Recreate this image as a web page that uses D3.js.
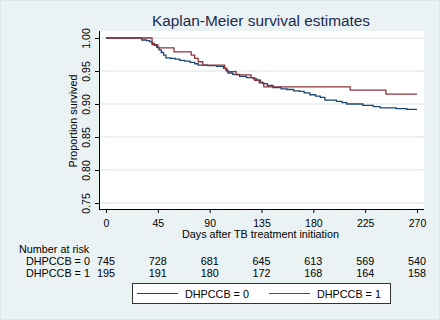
<!DOCTYPE html>
<html lang="en">
<head>
<meta charset="utf-8">
<title>Kaplan-Meier survival estimates</title>
<style>
  body { margin: 0; background: #eaf2f3; }
  svg { display: block; font-family: "Liberation Sans", Arial, sans-serif; }
</style>
<script src="https://d3js.org/d3.v7.min.js"></script>
</head>
<body>
<script>
// survival steps, DHPCCB = 0
const days0 = [0, 31, 35, 38, 40, 42, 44, 46, 48, 50, 52, 56, 60, 64, 68, 73, 77, 80, 88, 96,
  102, 104, 106, 110, 116, 122, 128, 131, 134, 136, 140, 145, 152, 157, 163, 168, 172, 177,
  182, 186, 190, 200, 205, 209, 223, 232, 238, 252, 261, 270];
const surv0 = [1.000, 0.997, 0.996, 0.994, 0.992, 0.989, 0.986, 0.982, 0.978, 0.974, 0.970,
  0.969, 0.968, 0.966, 0.965, 0.963, 0.961, 0.959, 0.958, 0.957, 0.954, 0.951, 0.947, 0.945,
  0.942, 0.940, 0.938, 0.936, 0.933, 0.931, 0.928, 0.925, 0.923, 0.922, 0.920, 0.919, 0.917,
  0.914, 0.912, 0.910, 0.906, 0.904, 0.902, 0.900, 0.898, 0.896, 0.894, 0.893, 0.892, 0.892];

// survival steps, DHPCCB = 1
const days1 = [0, 40, 45, 59, 74, 77, 80, 84, 103, 105, 113, 126, 129, 133, 137, 212, 243, 270];
const surv1 = [1.000, 0.990, 0.985, 0.979, 0.974, 0.969, 0.964, 0.959, 0.954, 0.949, 0.944,
  0.940, 0.936, 0.932, 0.926, 0.921, 0.915, 0.915];

const xTicks = [0, 45, 90, 135, 180, 225, 270];
const yTicks = [0.75, 0.80, 0.85, 0.90, 0.95, 1.00];
const atRisk0 = [745, 728, 681, 645, 613, 569, 540];
const atRisk1 = [195, 191, 180, 172, 168, 164, 158];
const groups = ["DHPCCB = 0", "DHPCCB = 1"];
const colors = ["#1a476f", "#90353b"];

const W = 440, H = 320;
const plot = { left: 99, right: 424, top: 31, bottom: 209 };

const svg = d3.select("body").append("svg")
  .attr("width", W).attr("height", H);

svg.append("rect")
  .attr("x", 0.5).attr("y", 0.5).attr("width", W - 1).attr("height", H - 1)
  .attr("fill", "#eaf2f3").attr("stroke", "#dce6e8");

const x = d3.scaleLinear().domain([0, 270]).range([106, 417]);
const y = d3.scaleLinear().domain([0.75, 1]).range([203, 38]);

// plot region
svg.append("rect")
  .attr("x", plot.left).attr("y", plot.top)
  .attr("width", plot.right - plot.left).attr("height", plot.bottom - plot.top)
  .attr("fill", "#fff");

svg.append("g").selectAll("line")
  .data(yTicks)
  .join("line")
  .attr("x1", plot.left).attr("x2", plot.right)
  .attr("y1", d => y(d)).attr("y2", d => y(d))
  .attr("stroke", "#e6eef0").attr("stroke-width", 1.3);

// curves
const line = d3.line()
  .x(d => x(d[0]))
  .y(d => y(d[1]))
  .curve(d3.curveStepAfter);

[[days0, surv0], [days1, surv1]].forEach((s, i) => {
  svg.append("path")
    .datum(d3.zip(s[0], s[1]))
    .attr("fill", "none")
    .attr("stroke", colors[i])
    .attr("stroke-width", 1.3)
    .attr("d", line);
});

// axes
const yAxis = svg.append("g")
  .attr("transform", `translate(${plot.left},0)`)
  .call(d3.axisLeft(y).tickValues(yTicks).tickSize(4).tickSizeOuter(0).tickFormat(d3.format(".2f")));
yAxis.select(".domain").remove();
yAxis.selectAll("text")
  .attr("transform", "rotate(-90)")
  .attr("x", 0).attr("y", -12).attr("dy", "0.32em")
  .attr("text-anchor", "middle")
  .style("font-size", "10.5px").attr("fill", "#000");

const xAxis = svg.append("g")
  .attr("transform", `translate(0,${plot.bottom})`)
  .call(d3.axisBottom(x).tickValues(xTicks).tickSize(4).tickSizeOuter(0));
xAxis.select(".domain").remove();
xAxis.selectAll("text")
  .attr("y", 18).attr("dy", 0)
  .style("font-size", "10.5px").attr("fill", "#000");

svg.append("line")
  .attr("x1", plot.left + 0.5).attr("x2", plot.left + 0.5)
  .attr("y1", plot.top).attr("y2", plot.bottom + 0.5)
  .attr("stroke", "#000");
svg.append("line")
  .attr("x1", plot.left).attr("x2", plot.right)
  .attr("y1", plot.bottom + 0.5).attr("y2", plot.bottom + 0.5)
  .attr("stroke", "#000");

// titles
svg.append("text")
  .attr("x", 261).attr("y", 26)
  .attr("text-anchor", "middle")
  .style("font-size", "15.4px")
  .attr("fill", "#1c2a4e")
  .text("Kaplan-Meier survival estimates");

svg.append("text")
  .attr("x", 260.5).attr("y", 238)
  .attr("text-anchor", "middle")
  .style("font-size", "10.8px")
  .text("Days after TB treatment initiation");

svg.append("text")
  .attr("transform", "translate(77,121) rotate(-90)")
  .attr("text-anchor", "middle")
  .style("font-size", "10.8px")
  .text("Proportion survived");

// number at risk table
svg.append("text")
  .attr("x", 19).attr("y", 252.5)
  .style("font-size", "10.8px")
  .text("Number at risk");

[atRisk0, atRisk1].forEach((vals, i) => {
  const yy = 264.5 + i * 12.5;
  svg.append("text")
    .attr("x", 26).attr("y", yy)
    .style("font-size", "10.8px")
    .text(groups[i]);
  svg.append("g").selectAll("text")
    .data(vals)
    .join("text")
    .attr("x", (d, j) => x(xTicks[j]))
    .attr("y", yy)
    .attr("text-anchor", "middle")
    .style("font-size", "10.8px")
    .text(d => d);
});

// legend
const legend = svg.append("g");
legend.append("rect")
  .attr("x", 132.5).attr("y", 283.5).attr("width", 258).attr("height", 20)
  .attr("fill", "#fff").attr("stroke", "#333");
const legX = [137, 269];
groups.forEach((g, i) => {
  legend.append("line")
    .attr("x1", legX[i]).attr("x2", legX[i] + 41)
    .attr("y1", 293.5).attr("y2", 293.5)
    .attr("stroke", colors[i]).attr("stroke-width", 1.2);
  legend.append("text")
    .attr("x", legX[i] + 48).attr("y", 297.5)
    .style("font-size", "10.8px")
    .text(g);
});
</script>
</body>
</html>
